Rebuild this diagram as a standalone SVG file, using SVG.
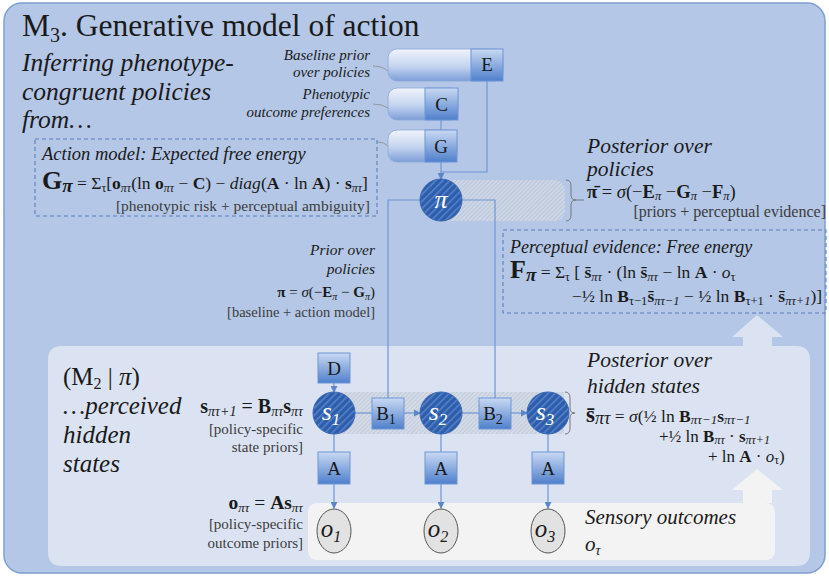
<svg xmlns="http://www.w3.org/2000/svg" width="829" height="578" viewBox="0 0 829 578">
<defs>
<style>
.t{font-family:"Liberation Serif","Times New Roman","DejaVu Serif",serif;fill:#1a1a1a}
.i{font-style:italic}
.b{font-weight:bold}
.g{fill:#3c3c3c}
.sq{fill:url(#sqg);stroke:#6f95d6;stroke-width:1}
.tab{fill:url(#tabg);stroke:#8aa8d8;stroke-width:0.8}
.lt{font-family:"Liberation Serif","Times New Roman",serif;font-size:19px;fill:#1a1a1a;text-anchor:middle}
.node{fill:url(#hatchc);stroke:#3a68b4;stroke-width:1}
.nl{font-family:"Liberation Serif","Times New Roman",serif;font-style:italic;font-size:26px;fill:#ffffff;text-anchor:middle}
.ln{fill:none;stroke:#6f95d6;stroke-width:1.2}
.dash{fill:none;stroke:#5b7fbe;stroke-width:1.1;stroke-dasharray:4 3}
.obs{fill:#e2e2e2;stroke:#555;stroke-width:1}
.ol{font-family:"Liberation Serif","Times New Roman",serif;font-style:italic;font-size:25px;fill:#1a1a1a;text-anchor:middle}
</style>
<linearGradient id="sqg" x1="0" y1="0" x2="0" y2="1">
<stop offset="0" stop-color="#c9d9f2"/>
<stop offset="1" stop-color="#4f80cc"/>
</linearGradient>
<linearGradient id="tabg" x1="0" y1="0" x2="0" y2="1">
<stop offset="0" stop-color="#f0f4fb"/>
<stop offset="0.55" stop-color="#c3d3ef"/>
<stop offset="1" stop-color="#7c9ed8"/>
</linearGradient>
<pattern id="hatchc" width="5" height="5" patternUnits="userSpaceOnUse" patternTransform="rotate(45)">
<rect width="5" height="5" fill="#2d5dab"/>
<rect width="1.6" height="5" fill="#5583c9"/>
</pattern>
<pattern id="hatchb" width="3" height="3" patternUnits="userSpaceOnUse" patternTransform="rotate(45)">
<rect width="3" height="3" fill="#cdd6e6"/>
<rect width="1" height="3" fill="#bcc6d8"/>
</pattern>
<pattern id="hatchs" width="3" height="3" patternUnits="userSpaceOnUse" patternTransform="rotate(45)">
<rect width="3" height="3" fill="#d3dbe8"/>
<rect width="1" height="3" fill="#c3cbd9"/>
</pattern>
<marker id="ar" viewBox="0 0 8 8" refX="7" refY="4" markerWidth="7" markerHeight="7" orient="auto" markerUnits="userSpaceOnUse">
<path d="M0 0 L8 4 L0 8 Z" fill="#5b86cc"/>
</marker>
</defs>

<!-- panels -->
<g id="outer-panel">
<rect x="4" y="3" width="821" height="570" rx="18" fill="#b4c7e7" stroke="#7f9fd3" stroke-width="1.5"/>
</g>
<g id="lower-panel">
<path d="M48 360 Q48 346 62 346 H743 V337 H732 L757 315 L783 337 H772 V346 H796 Q810 346 810 360 V552 Q810 566 796 566 H62 Q48 566 48 552 Z" fill="#dbe3f2"/>
</g>
<g id="sensory-panel">
<path d="M308 513 Q308 503 318 503 H743 V490 H732 L757 469 L783 490 H772 V503 H765 Q775 503 775 513 V550 Q775 560 765 560 H318 Q308 560 308 550 Z" fill="#f3f3f3"/>
</g>

<!-- title texts -->
<text class="t" x="22" y="36" font-size="31.5">M<tspan font-size="20" dy="6">3</tspan><tspan dy="-6">. Generative model of action</tspan></text>
<text class="t i" x="22" y="71" font-size="25.5">Inferring phenotype-</text>
<text class="t i" x="22" y="100" font-size="25.5">congruent policies</text>
<text class="t i" x="22" y="128" font-size="25.5">from…</text>

<!-- bands -->
<g id="policy-band">
<path d="M441 180 H553 Q565 180 565 192 V209 Q565 221 553 221 H441 Z" fill="url(#hatchb)"/>
</g>
<g id="state-band">
<rect x="334" y="392" width="230" height="42" fill="url(#hatchs)"/>
</g>

<!-- connectors -->
<g id="connectors">
<path class="ln" d="M487 81 V172 H441"/>
<path class="ln" d="M441 120 V130"/>
<path class="ln" d="M441 162 V179" marker-end="url(#ar)"/>
<path class="ln" d="M420 200 H388 V398"/>
<path class="ln" d="M462 200 H495 V398"/>
<path class="ln" d="M334 383 V392" marker-end="url(#ar)"/>
<path class="ln" d="M355 413 H372"/>
<path class="ln" d="M404 413 H420" marker-end="url(#ar)"/>
<path class="ln" d="M462 413 H479"/>
<path class="ln" d="M511 413 H527" marker-end="url(#ar)"/>
<path class="ln" d="M334 434 V452"/>
<path class="ln" d="M441 434 V452"/>
<path class="ln" d="M548 434 V452"/>
<path class="ln" d="M334 484 V508" marker-end="url(#ar)"/>
<path class="ln" d="M441 484 V508" marker-end="url(#ar)"/>
<path class="ln" d="M548 484 V508" marker-end="url(#ar)"/>
<path d="M373 66 Q382 66 388 71" fill="none" stroke="#8a8a8a" stroke-width="0.8"/>
<path d="M373 104 Q382 104 388 108" fill="none" stroke="#8a8a8a" stroke-width="0.8"/>
<path d="M378 142 Q384 142 388 146" fill="none" stroke="#8a8a8a" stroke-width="0.8"/>
</g>

<!-- E C G -->
<g id="node-E">
<rect class="tab" x="388" y="49" width="115" height="32" rx="9"/>
<rect class="sq" x="471" y="49" width="32" height="32"/>
<text class="lt" x="487" y="71">E</text>
</g>
<g id="node-C">
<rect class="tab" x="388" y="88" width="70" height="32" rx="9"/>
<rect class="sq" x="425" y="88" width="33" height="32"/>
<text class="lt" x="441.5" y="111">C</text>
</g>
<g id="node-G">
<rect class="tab" x="388" y="130" width="69" height="32" rx="9"/>
<rect class="sq" x="425" y="130" width="32" height="32"/>
<text class="lt" x="441" y="153">G</text>
</g>
<text class="t i" x="370" y="60" font-size="15" text-anchor="end">Baseline prior</text>
<text class="t i" x="370" y="77" font-size="15" text-anchor="end">over policies</text>
<text class="t i" x="370" y="99" font-size="15" text-anchor="end">Phenotypic</text>
<text class="t i" x="370" y="117" font-size="15" text-anchor="end">outcome preferences</text>

<!-- pi -->
<g id="node-pi">
<circle class="node" cx="441" cy="200" r="21"/>
<text class="nl" x="441" y="208">π</text>
</g>

<!-- action model box -->
<g id="action-model">
<rect class="dash" x="35" y="139" width="342" height="77"/>
<text class="t i" x="42" y="160" font-size="18.5">Action model: Expected free energy</text>
<text class="t" x="42" y="189" font-size="17.5"><tspan class="b" font-size="26">G</tspan><tspan class="b i" font-size="19" dy="3">π</tspan><tspan dy="-3"> = Σ</tspan><tspan font-size="12" dy="3">τ</tspan><tspan dy="-3">[</tspan><tspan class="b">o</tspan><tspan class="i" font-size="12" dy="3">πτ</tspan><tspan dy="-3">(ln </tspan><tspan class="b">o</tspan><tspan class="i" font-size="12" dy="3">πτ</tspan><tspan dy="-3"> − </tspan><tspan class="b">C</tspan><tspan>) − </tspan><tspan class="i">diag</tspan><tspan>(</tspan><tspan class="b">A</tspan><tspan> · ln </tspan><tspan class="b">A</tspan><tspan>) · </tspan><tspan class="b">s</tspan><tspan class="i" font-size="12" dy="3">πτ</tspan><tspan dy="-3">]</tspan></text>
<text class="t g" x="370" y="211" font-size="15.5" text-anchor="end">[phenotypic risk + perceptual ambiguity]</text>
</g>

<!-- posterior over policies -->
<g id="posterior-policies">
<path d="M566 180 Q571 180 571 186 V195 Q571 200 576 200 Q571 200 571 205 V215 Q571 221 566 221" fill="none" stroke="#777" stroke-width="1"/>
<path d="M576 200 H584" stroke="#777" stroke-width="1"/>
<text class="t i" x="587" y="153" font-size="21.5">Posterior over</text>
<text class="t i" x="587" y="176" font-size="21.5">policies</text>
<text class="t" x="587" y="198" font-size="18.5"><tspan class="b">π̄</tspan><tspan> = </tspan><tspan class="i">σ</tspan><tspan>(−</tspan><tspan class="b">E</tspan><tspan class="i" font-size="12.5" dy="2">π</tspan><tspan dy="-2"> −</tspan><tspan class="b">G</tspan><tspan class="i" font-size="12.5" dy="2">π</tspan><tspan dy="-2"> −</tspan><tspan class="b">F</tspan><tspan class="i" font-size="12.5" dy="2">π</tspan><tspan dy="-2">)</tspan></text>
<text class="t g" x="826" y="217" font-size="16" text-anchor="end">[priors + perceptual evidence]</text>
</g>

<!-- perceptual evidence -->
<g id="perceptual-evidence">
<rect class="dash" x="503" y="230" width="323" height="83"/>
<text class="t i" x="510" y="253" font-size="18">Perceptual evidence: Free energy</text>
<text class="t" x="510" y="278" font-size="17.5"><tspan class="b" font-size="26">F</tspan><tspan class="b i" font-size="19" dy="3">π</tspan><tspan dy="-3"> = Σ</tspan><tspan font-size="12" dy="3">τ</tspan><tspan dy="-3"> [ </tspan><tspan class="b">s̄</tspan><tspan class="i" font-size="12.5" dy="3">πτ</tspan><tspan dy="-3"> · (ln </tspan><tspan class="b">s̄</tspan><tspan class="i" font-size="12.5" dy="3">πτ</tspan><tspan dy="-3"> − ln </tspan><tspan class="b">A</tspan><tspan> · </tspan><tspan class="i">o</tspan><tspan font-size="12.5" dy="3">τ</tspan></text>
<text class="t" x="572" y="302" font-size="17.5"><tspan>−½ ln </tspan><tspan class="b">B</tspan><tspan font-size="12.5" dy="3">τ−1</tspan><tspan class="b" dy="-3">s̄</tspan><tspan class="i" font-size="12.5" dy="3">πτ−1</tspan><tspan dy="-3"> − ½ ln </tspan><tspan class="b">B</tspan><tspan font-size="12.5" dy="3">τ+1</tspan><tspan dy="-3"> · </tspan><tspan class="b">s̄</tspan><tspan class="i" font-size="12.5" dy="3">πτ+1</tspan><tspan dy="-3">)]</tspan></text>
</g>

<!-- prior over policies -->
<g id="prior-policies">
<text class="t i" x="375" y="255" font-size="15.5" text-anchor="end">Prior over</text>
<text class="t i" x="375" y="274" font-size="15.5" text-anchor="end">policies</text>
<text class="t" x="375" y="297" font-size="15" text-anchor="end"><tspan class="b">π</tspan><tspan> = </tspan><tspan class="i">σ</tspan><tspan>(−</tspan><tspan class="b">E</tspan><tspan class="i" font-size="10" dy="3">π</tspan><tspan dy="-3"> − </tspan><tspan class="b">G</tspan><tspan class="i" font-size="10" dy="3">π</tspan><tspan dy="-3">)</tspan></text>
<text class="t g" x="375" y="317" font-size="14.5" text-anchor="end">[baseline + action model]</text>
</g>

<!-- lower panel texts -->
<text class="t" x="63" y="385" font-size="25">(M<tspan font-size="16" dy="4">2</tspan><tspan dy="-4"> | </tspan><tspan class="i">π</tspan>)</text>
<text class="t i" x="63" y="414" font-size="25">…perceived</text>
<text class="t i" x="63" y="443" font-size="25">hidden</text>
<text class="t i" x="63" y="472" font-size="25">states</text>

<text class="t" x="303" y="413" font-size="20" text-anchor="end"><tspan class="b">s</tspan><tspan class="i" font-size="14" dy="3">πτ+1</tspan><tspan dy="-3"> = </tspan><tspan class="b">B</tspan><tspan class="i" font-size="14" dy="3">πτ</tspan><tspan class="b" dy="-3">s</tspan><tspan class="i" font-size="14" dy="3">πτ</tspan></text>
<text class="t g" x="303" y="434" font-size="15" text-anchor="end">[policy-specific</text>
<text class="t g" x="303" y="452" font-size="15" text-anchor="end">state priors]</text>

<text class="t" x="303" y="509" font-size="19.5" text-anchor="end"><tspan class="b">o</tspan><tspan class="i" font-size="13" dy="3">πτ</tspan><tspan dy="-3"> = </tspan><tspan class="b">As</tspan><tspan class="i" font-size="13" dy="3">πτ</tspan></text>
<text class="t g" x="303" y="529" font-size="15" text-anchor="end">[policy-specific</text>
<text class="t g" x="303" y="548" font-size="15" text-anchor="end">outcome priors]</text>

<!-- posterior hidden states -->
<g id="posterior-states">
<path d="M565 392 Q570 392 570 398 V408 Q570 413 575 413 Q570 413 570 418 V428 Q570 434 565 434" fill="none" stroke="#777" stroke-width="1"/>
<text class="t i" x="587" y="367" font-size="21.5">Posterior over</text>
<text class="t i" x="587" y="393" font-size="21.5">hidden states</text>
<text class="t" x="586" y="422" font-size="17.5"><tspan class="b" font-size="23">s̄</tspan><tspan class="i" font-size="18" dy="2">πτ</tspan><tspan dy="-2"> = </tspan><tspan class="i">σ</tspan><tspan>(½ ln </tspan><tspan class="b">B</tspan><tspan class="i" font-size="13" dy="2">πτ−1</tspan><tspan class="b" dy="-2">s</tspan><tspan class="i" font-size="13" dy="2">πτ−1</tspan></text>
<text class="t" x="659" y="442" font-size="17"><tspan>+½ ln </tspan><tspan class="b">B</tspan><tspan class="i" font-size="12" dy="2">πτ</tspan><tspan dy="-2"> · </tspan><tspan class="b">s</tspan><tspan class="i" font-size="12" dy="2">πτ+1</tspan></text>
<text class="t" x="708" y="462" font-size="17"><tspan>+ ln </tspan><tspan class="b">A</tspan><tspan> · </tspan><tspan class="i">o</tspan><tspan font-size="12" dy="2">τ</tspan><tspan dy="-2">)</tspan></text>
</g>

<!-- state nodes -->
<g id="node-D">
<rect class="sq" x="318" y="353" width="32" height="30"/>
<text class="lt" x="334" y="375">D</text>
</g>
<g id="node-s1">
<circle class="node" cx="334" cy="413" r="21"/>
<text class="nl" x="331" y="420">s<tspan font-size="17" dy="5">1</tspan></text>
</g>
<g id="node-s2">
<circle class="node" cx="441" cy="413" r="21"/>
<text class="nl" x="438" y="420">s<tspan font-size="17" dy="5">2</tspan></text>
</g>
<g id="node-s3">
<circle class="node" cx="548" cy="413" r="21"/>
<text class="nl" x="545" y="420">s<tspan font-size="17" dy="5">3</tspan></text>
</g>
<g id="node-B1">
<rect class="sq" x="372" y="398" width="32" height="31"/>
<text class="lt" x="386" y="420">B<tspan font-size="14" dy="4">1</tspan></text>
</g>
<g id="node-B2">
<rect class="sq" x="479" y="398" width="32" height="31"/>
<text class="lt" x="493" y="420">B<tspan font-size="14" dy="4">2</tspan></text>
</g>
<g id="node-A1">
<rect class="sq" x="318" y="452" width="32" height="32"/>
<text class="lt" x="334" y="475">A</text>
</g>
<g id="node-A2">
<rect class="sq" x="425" y="452" width="32" height="32"/>
<text class="lt" x="441" y="475">A</text>
</g>
<g id="node-A3">
<rect class="sq" x="532" y="452" width="32" height="32"/>
<text class="lt" x="548" y="475">A</text>
</g>

<!-- outcomes -->
<g id="node-o1">
<ellipse class="obs" cx="334" cy="531" rx="17" ry="22"/>
<text class="ol" x="331" y="537">o<tspan font-size="16" dy="5">1</tspan></text>
</g>
<g id="node-o2">
<ellipse class="obs" cx="441" cy="531" rx="17" ry="22"/>
<text class="ol" x="438" y="537">o<tspan font-size="16" dy="5">2</tspan></text>
</g>
<g id="node-o3">
<ellipse class="obs" cx="548" cy="531" rx="17" ry="22"/>
<text class="ol" x="545" y="537">o<tspan font-size="16" dy="5">3</tspan></text>
</g>
<text class="t i" x="585" y="524" font-size="21">Sensory outcomes</text>
<text class="t i" x="585" y="551" font-size="21">o<tspan class="i" font-size="14" dy="4">τ</tspan></text>
</svg>
